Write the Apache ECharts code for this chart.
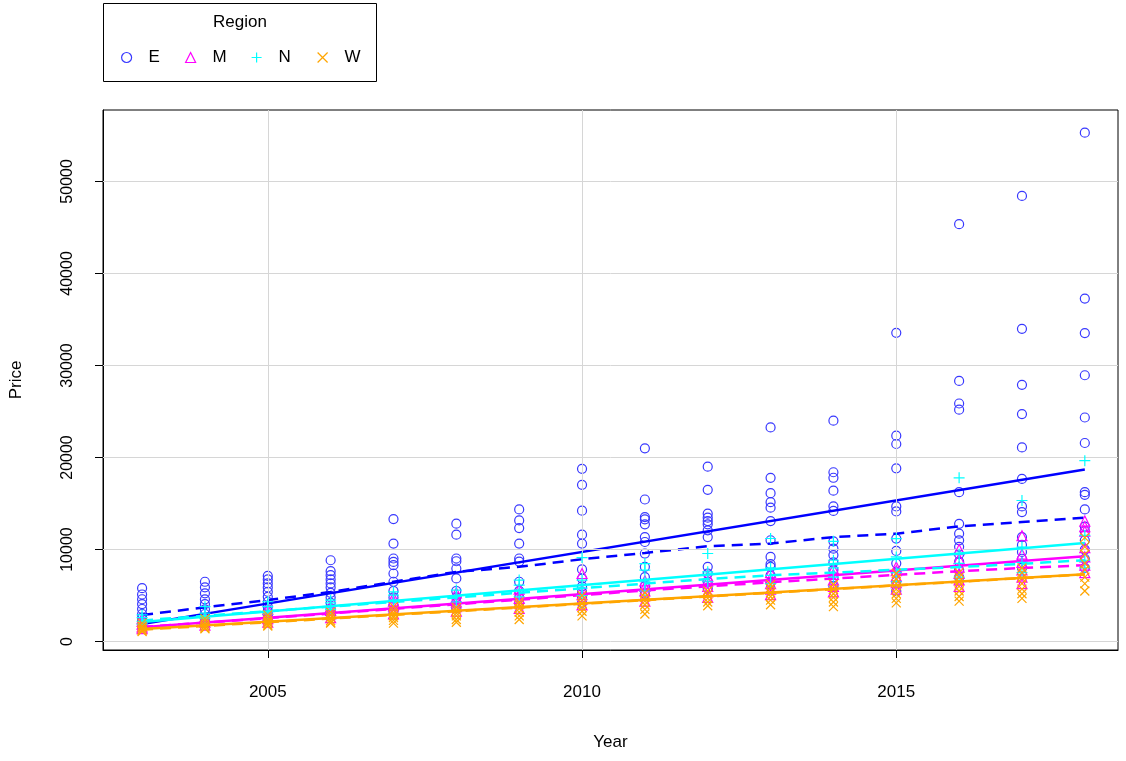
<!DOCTYPE html>
<html>
<head>
<meta charset="utf-8">
<title>Price by Year and Region</title>
<script src="https://cdn.jsdelivr.net/npm/echarts@6/dist/echarts.min.js"></script>
<style>
  html, body { margin: 0; padding: 0; background: #ffffff; }
  #chart { width: 1126px; height: 761px; }
</style>
</head>
<body>
<div id="chart"></div>
<script>
// ---- data -------------------------------------------------------------
const years = [2003, 2004, 2005, 2006, 2007, 2008, 2009, 2010,
               2011, 2012, 2013, 2014, 2015, 2016, 2017, 2018];

const xTicks = [2005, 2010, 2015];
const yTicks = [0, 10000, 20000, 30000, 40000, 50000];

const regions = ['E', 'M', 'N', 'W'];

// prices observed per year (one inner list per entry of `years`)
const priceE = [
  [5800, 5120, 4600, 4080, 3540, 3000, 2600, 2200, 1800],
  [6500, 5900, 5240, 4590, 4080, 3500, 3000, 2500, 2000],
  [7140, 6750, 6320, 5890, 5410, 4870, 4330, 3800, 3300, 2900, 2500],
  [8840, 7650, 7220, 6750, 6320, 5890, 5300, 4800, 4200, 3600, 3000],
  [13310, 10650, 9030, 8660, 8300, 7400, 6500, 5500, 4800, 4000, 3300],
  [12810, 11620, 9030, 8730, 7940, 6860, 5500, 4800, 4200, 3600],
  [14360, 13170, 12340, 10650, 9030, 8700, 6500, 5500, 4800, 4200],
  [18770, 17030, 14220, 11620, 10650, 7840, 6850, 6000, 5400, 4800, 4200],
  [21000, 15440, 13530, 13280, 12740, 11360, 10820, 9570, 8120, 7000, 6000, 5200],
  [19010, 16490, 13900, 13460, 13100, 12740, 12090, 11360, 8120, 7400, 6500, 5800],
  [23270, 17790, 16130, 15150, 14550, 13100, 11010, 9200, 8410, 8120, 7200, 6400],
  [24000, 18400, 17800, 16400, 14700, 14200, 10900, 10100, 9400, 8600, 7800, 7000, 6000],
  [33550, 22370, 21470, 18830, 14690, 14140, 11190, 9850, 8500, 7500, 6500, 5500],
  [45350, 28320, 25870, 25200, 16230, 12800, 11730, 11000, 10300, 9500, 8700, 7800, 7000],
  [48420, 33980, 27900, 24720, 21100, 17680, 14690, 14070, 11360, 10500, 9740, 9000, 8000],
  [55300, 37270, 33520, 28940, 24350, 21580, 16230, 15950, 14360, 12500, 12000, 11000, 10000, 9000, 8000]
];

const priceM = [
  [1400, 1600, 1900, 2200, 2500],
  [1800, 2100, 2400, 2700],
  [2100, 2500, 2800, 3100, 3500],
  [2600, 3000, 3400, 3800],
  [3000, 3500, 3900, 4400, 4800],
  [3300, 3800, 4300, 4800, 5300],
  [3600, 4200, 4700, 5200, 5700],
  [4000, 4600, 5100, 5600, 7400],
  [4400, 5000, 5500, 6000, 6600],
  [4800, 5400, 6000, 6600, 7100],
  [5100, 5700, 6300, 6900, 7500],
  [5400, 6000, 6700, 7300, 7900],
  [5700, 6400, 7100, 7700, 8100],
  [6000, 6700, 7400, 8100, 9000, 10000],
  [6300, 7000, 7800, 8600, 9500, 11500],
  [7500, 8300, 9200, 10200, 12000, 12500, 13100]
];

const priceN = [
  [1900, 2200, 2600, 2900],
  [2500, 3100, 3790],
  [3000, 3790, 4330],
  [3500, 4200, 4500],
  [4500, 5050, 5410],
  [4300, 4900, 5600],
  [4870, 6140, 6680],
  [5000, 5800, 6680, 9130],
  [5500, 6500, 7760, 8480],
  [6500, 7580, 9570],
  [6300, 7200, 8000, 11200],
  [7000, 8000, 8840, 10900],
  [6500, 7500, 9200, 11190],
  [7000, 8500, 9500, 17790],
  [7500, 8600, 10280, 15330],
  [8000, 8840, 11550, 19660]
];

const priceW = [
  [1100, 1200, 1300, 1500, 1700, 2000],
  [1400, 1500, 1700, 1900, 2200, 2500],
  [1700, 1800, 2000, 2100, 2300, 2600, 2900],
  [2000, 2100, 2300, 2600, 2900, 3200],
  [2000, 2300, 2600, 2800, 3100, 3400, 3800],
  [2100, 2400, 2800, 3100, 3400, 3700],
  [2400, 2800, 3200, 3600, 4000, 4300],
  [2800, 3300, 3700, 4100, 4500, 5000],
  [3000, 3500, 4000, 4400, 4800, 5300],
  [3900, 4300, 4700, 5100, 5500],
  [4000, 4500, 4900, 5300, 5800, 6200],
  [3800, 4300, 4800, 5200, 5700, 6200],
  [4200, 4700, 5200, 5700, 6300, 6800, 7400],
  [4400, 4900, 5500, 6000, 6500, 7000, 7500],
  [4700, 5200, 5700, 6300, 6900, 7500, 8000],
  [5500, 6300, 7000, 7800, 8500, 9500, 10300, 11300]
];

// least-squares fit lines, value at first and last year
const fitYears = [2003, 2018];
const fitE = [1900, 18690];
const fitM = [1555, 9280];
const fitN = [2130, 10720];
const fitW = [1370, 7330];

// loess smooth curves, one value per entry of `years`
const smoothE = [2890, 3720, 4510, 5400, 6500, 7580, 8120, 8950,
                 9630, 10360, 10650, 11360, 11730, 12520, 12990, 13460];
const smoothM = [1600, 2050, 2550, 3050, 3550, 4050, 4550, 5050,
                 5550, 6000, 6450, 6850, 7250, 7650, 8000, 8300];
const smoothN = [2300, 2800, 3300, 3800, 4300, 4800, 5300, 5800,
                 6300, 6800, 7200, 7500, 7800, 8100, 8450, 8850];
const smoothW = [1300, 1700, 2100, 2500, 2900, 3300, 3700, 4100,
                 4500, 4900, 5300, 5700, 6100, 6500, 6900, 7300];

// ---- styling ----------------------------------------------------------
const colors = { E: '#0000FF', M: '#FF00FF', N: '#00FFFF', W: '#FFA500' };
const markColors = { E: '#3838FF', M: '#FF00FF', N: '#00FFFF', W: '#FFA500' };
const symbols = {
  E: { symbol: 'circle', size: 9 },
  M: { symbol: 'triangle', size: 10 },
  N: { symbol: 'path://M5 0L5 10M0 5L10 5', size: 11 },
  W: { symbol: 'path://M0 0L10 10M0 10L10 0', size: 9 }
};
const prices = { E: priceE, M: priceM, N: priceN, W: priceW };
const fits = { E: fitE, M: fitM, N: fitN, W: fitW };
const smooths = { E: smoothE, M: smoothM, N: smoothN, W: smoothW };

const FONT = '"Liberation Sans", Arial, sans-serif';

function pointsOf(r) {
  const out = [];
  prices[r].forEach((vals, i) => vals.forEach(v => out.push([years[i], v])));
  return out;
}

const series = [];

// light reference grid behind everything
series.push({
  type: 'line',
  data: [],
  z: 1,
  silent: true,
  markLine: {
    silent: true,
    symbol: ['none', 'none'],
    label: { show: false },
    lineStyle: { color: '#d6d6d6', width: 1, type: 'solid' },
    emphasis: { disabled: true },
    animation: false,
    data: xTicks.map(v => ({ xAxis: v })).concat(yTicks.map(v => ({ yAxis: v })))
  }
});

regions.forEach((r, k) => {
  const base = 3 + k * 3;
  series.push({
    name: r,
    type: 'scatter',
    symbol: symbols[r].symbol,
    symbolSize: symbols[r].size,
    z: base,
    itemStyle: { color: 'rgba(0,0,0,0)', borderColor: markColors[r], borderWidth: 1.2, opacity: 1 },
    emphasis: { disabled: true },
    data: pointsOf(r)
  });
  series.push({
    name: r,
    type: 'line',
    z: base + 1,
    symbol: 'none',
    silent: true,
    lineStyle: { color: colors[r], width: 2.5, type: 'solid' },
    data: fitYears.map((y, i) => [y, fits[r][i]])
  });
  series.push({
    name: r,
    type: 'line',
    z: base + 1,
    symbol: 'none',
    silent: true,
    lineStyle: { color: colors[r], width: 2.5, type: [11, 7] },
    data: years.map((y, i) => [y, smooths[r][i]])
  });
});

// legend items, one component per region so each sits where it belongs
const legendLeft = [121, 185, 251, 317];
const legends = regions.map((r, i) => ({
  data: [{ name: r, icon: symbols[r].symbol,
           itemStyle: { color: 'rgba(0,0,0,0)', borderColor: markColors[r], borderWidth: 1.2 } }],
  left: legendLeft[i],
  top: 49,
  orient: 'horizontal',
  itemWidth: 10,
  itemHeight: 10,
  selectedMode: false,
  padding: 0,
  textStyle: { fontFamily: FONT, fontSize: 17, color: '#000', padding: [0, 0, 0, 12] }
}));

const plain = v => String(v);

const option = {
  animation: false,
  backgroundColor: '#ffffff',
  grid: {
    left: 103, right: 8, top: 110, bottom: 111,
    containLabel: false,
    outerBoundsMode: 'none',
    show: true, borderColor: '#000', borderWidth: 1, backgroundColor: 'transparent'
  },
  legend: legends,
  graphic: [
    {
      type: 'rect',
      shape: { x: 103.5, y: 3.5, width: 273, height: 78 },
      style: { fill: '#fff', stroke: '#000', lineWidth: 1 },
      z: 0
    },
    {
      type: 'text',
      x: 240, y: 22,
      style: { text: 'Region', fontFamily: FONT, fontSize: 17, fill: '#000',
               textAlign: 'center', textVerticalAlign: 'middle' },
      z: 1
    }
  ],
  xAxis: {
    type: 'value',
    min: 2002.378,
    max: 2018.528,
    name: 'Year',
    nameLocation: 'middle',
    nameGap: 84,
    nameTextStyle: { fontFamily: FONT, fontSize: 17, color: '#000' },
    axisLine: { show: true, onZero: false, lineStyle: { color: '#000', width: 1 } },
    axisTick: { show: true, customValues: xTicks, length: 8, lineStyle: { color: '#000' } },
    axisLabel: { customValues: xTicks, formatter: plain, margin: 34,
                 fontFamily: FONT, fontSize: 17, color: '#000' },
    splitLine: { show: false }
  },
  yAxis: {
    type: 'value',
    min: -913,
    max: 57760,
    name: 'Price',
    nameLocation: 'middle',
    nameGap: 78,
    nameRotate: 90,
    nameTextStyle: { fontFamily: FONT, fontSize: 17, color: '#000' },
    axisLine: { show: true, onZero: false, lineStyle: { color: '#000', width: 1 } },
    axisTick: { show: true, customValues: yTicks, length: 8, lineStyle: { color: '#000' } },
    axisLabel: { customValues: yTicks, formatter: plain, rotate: 90, margin: 27,
                 fontFamily: FONT, fontSize: 16, color: '#000' },
    splitLine: { show: false }
  },
  series: series
};

const chart = echarts.init(document.getElementById('chart'), null, { renderer: 'canvas' });
chart.setOption(option);
</script>
</body>
</html>
